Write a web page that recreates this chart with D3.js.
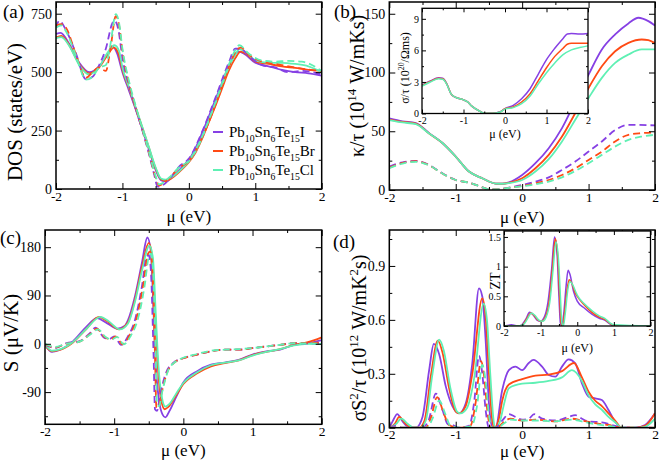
<!DOCTYPE html>
<html><head><meta charset="utf-8">
<script src="https://cdn.jsdelivr.net/npm/d3@7"></script>
<style>body{margin:0;background:#fff}svg{display:block}</style>
</head><body><svg id="c" width="661" height="460"></svg>
<script>
// ---------- DATA ----------
const seriesNames = ["Pb10Sn6Te15I","Pb10Sn6Te15Br","Pb10Sn6Te15Cl"];
const xTicks = [-2,-1,0,1,2];
const xMinor = [-1.5,-0.5,0.5,1.5];

// (a) DOS
const aSolidI=[[-2,663],[-1.93,668],[-1.8,620],[-1.65,540],[-1.5,500],[-1.35,525],[-1.22,580],[-1.15,610],[-1.08,580],[-1.0,500],[-0.9,420],[-0.8,340],[-0.7,255],[-0.6,168],[-0.5,82],[-0.42,38],[-0.35,33],[-0.25,50],[-0.1,95],[0,125],[0.1,175],[0.2,240],[0.3,310],[0.4,383],[0.5,455],[0.6,527],[0.68,570],[0.75,588],[0.85,575],[1.0,540],[1.2,525],[1.4,510],[1.6,500],[1.8,495],[2.0,485]];
const aSolidBr=[[-2,648],[-1.92,655],[-1.8,615],[-1.65,535],[-1.5,495],[-1.35,520],[-1.22,575],[-1.13,605],[-1.06,580],[-1.0,510],[-0.9,430],[-0.8,345],[-0.7,262],[-0.6,175],[-0.5,88],[-0.42,42],[-0.35,35],[-0.25,48],[-0.1,85],[0,115],[0.1,155],[0.2,215],[0.3,285],[0.4,355],[0.5,430],[0.6,505],[0.7,560],[0.78,588],[0.9,570],[1.0,545],[1.2,535],[1.4,525],[1.6,518],[1.8,510],[2.0,505]];
const aSolidCl=[[-2,645],[-1.92,650],[-1.8,612],[-1.65,530],[-1.5,490],[-1.35,522],[-1.22,585],[-1.12,615],[-1.05,590],[-1.0,520],[-0.9,435],[-0.8,350],[-0.7,265],[-0.6,178],[-0.5,92],[-0.42,45],[-0.35,40],[-0.25,52],[-0.1,88],[0,118],[0.1,160],[0.2,220],[0.3,295],[0.4,368],[0.5,445],[0.6,520],[0.7,575],[0.76,598],[0.9,575],[1.0,550],[1.2,540],[1.4,540],[1.6,535],[1.8,525],[2.0,500]];
const aDashI=[[-2,690],[-1.95,720],[-1.85,680],[-1.7,580],[-1.55,470],[-1.45,480],[-1.35,530],[-1.25,600],[-1.15,710],[-1.12,720],[-1.06,680],[-1.0,560],[-0.9,440],[-0.8,345],[-0.7,250],[-0.6,150],[-0.52,60],[-0.47,10],[-0.4,15],[-0.3,40],[-0.15,95],[0,130],[0.2,245],[0.4,390],[0.6,540],[0.7,600],[0.78,600],[0.9,570],[1.1,530],[1.3,520],[1.5,500],[1.7,505],[2.0,490]];
const aDashBr=[[-2,700],[-1.92,705],[-1.85,690],[-1.7,575],[-1.55,475],[-1.45,500],[-1.35,520],[-1.25,505],[-1.18,600],[-1.1,740],[-1.05,700],[-1.0,590],[-0.9,450],[-0.8,350],[-0.7,255],[-0.6,155],[-0.5,50],[-0.45,15],[-0.38,25],[-0.3,45],[-0.15,90],[0,120],[0.2,220],[0.4,360],[0.6,520],[0.7,585],[0.78,605],[0.9,575],[1.1,545],[1.3,535],[1.5,525],[1.7,515],[2.0,505]];
const aDashCl=[[-2,690],[-1.92,700],[-1.85,675],[-1.7,570],[-1.55,468],[-1.45,480],[-1.35,520],[-1.25,530],[-1.18,620],[-1.1,748],[-1.05,710],[-1.0,600],[-0.9,460],[-0.8,355],[-0.7,258],[-0.6,158],[-0.5,55],[-0.45,20],[-0.38,28],[-0.3,48],[-0.15,92],[0,122],[0.2,225],[0.4,370],[0.6,530],[0.7,595],[0.76,615],[0.9,580],[1.1,550],[1.3,545],[1.5,548],[1.7,545],[2.0,505]];
const aYTicks=[0,250,500,750], aYMinor=[125,375,625];

// (b) kappa/tau
const bSolidI=[[-2,61],[-1.8,58.5],[-1.6,57],[-1.4,48.4],[-1.2,40],[-1.0,28.5],[-0.8,15.7],[-0.6,10],[-0.4,5.5],[-0.3,5.3],[-0.2,6.5],[0,12.8],[0.2,22.8],[0.4,35.6],[0.6,52.7],[0.8,75.4],[1.0,98.2],[1.2,119.6],[1.4,132.4],[1.6,141.8],[1.75,146.6],[1.9,143.7],[2.0,140]];
const bSolidBr=[[-2,60],[-1.8,58],[-1.6,56.5],[-1.4,48],[-1.2,40],[-1.0,28.5],[-0.8,15.7],[-0.6,10],[-0.4,5.5],[-0.3,5.3],[-0.2,6],[0,10],[0.2,18.5],[0.4,29.9],[0.6,45.5],[0.8,65.5],[1.0,86.8],[1.2,105.3],[1.4,118.1],[1.6,125.2],[1.8,128.1],[1.9,127.5],[2.0,125]];
const bSolidCl=[[-2,59.5],[-1.8,57.5],[-1.6,56],[-1.4,48],[-1.2,40],[-1.0,28.5],[-0.8,15.7],[-0.6,10],[-0.4,5.5],[-0.3,5.3],[-0.2,5.8],[0,8.5],[0.2,15.7],[0.4,26.2],[0.6,41.3],[0.8,59.8],[1.0,78.3],[1.2,95.4],[1.4,108.2],[1.6,115.3],[1.8,119.6],[2.0,119.6]];
const bDashI=[[-2,19.9],[-1.8,23.6],[-1.6,24.8],[-1.4,21.3],[-1.2,14.2],[-1.0,8.5],[-0.8,6.3],[-0.6,2.3],[-0.5,0.6],[-0.4,0.6],[-0.2,2],[0,4.3],[0.2,7.1],[0.4,10.8],[0.6,17.1],[0.8,24.2],[1.0,32.7],[1.2,41.3],[1.4,51],[1.6,55.5],[2.0,55]];
const bDashBr=[[-2,19],[-1.8,23],[-1.6,24.5],[-1.4,21],[-1.2,14],[-1.0,8.5],[-0.8,6.3],[-0.6,2.3],[-0.5,0.6],[-0.4,0.6],[-0.2,1.8],[0,3.5],[0.2,5.7],[0.4,8.5],[0.6,12.8],[0.8,18.5],[1.0,25.6],[1.2,32.7],[1.4,41.3],[1.6,47],[1.8,48.4],[2.0,49]];
const bDashCl=[[-2,18.5],[-1.8,22.5],[-1.6,24],[-1.4,21],[-1.2,14],[-1.0,8.5],[-0.8,6.3],[-0.6,2.3],[-0.5,0.6],[-0.4,0.6],[-0.2,1.8],[0,3.2],[0.2,4.8],[0.4,7.1],[0.6,10.8],[0.8,16.2],[1.0,22.8],[1.2,29.9],[1.4,37],[1.6,42.7],[1.8,45.5],[2.0,47]];
const bYTicks=[0,50,100,150], bYMinor=[25,75,125];

// (b) inset sigma/tau
const sigI=[[-2,2.7],[-1.8,3.1],[-1.6,3.4],[-1.5,3.35],[-1.4,2.8],[-1.3,1.86],[-1.2,1.55],[-1.0,1.3],[-0.9,1.1],[-0.8,0.7],[-0.6,0.2],[-0.5,0.02],[-0.3,0.02],[-0.1,0.2],[0,0.47],[0.2,0.78],[0.4,1.4],[0.6,2.33],[0.8,3.73],[1.0,5.12],[1.2,6.2],[1.4,7.14],[1.5,7.55],[1.6,7.6],[1.8,7.55],[2.0,7.6]];
const sigBr=[[-2,2.65],[-1.8,3.05],[-1.6,3.35],[-1.5,3.3],[-1.4,2.78],[-1.3,1.86],[-1.2,1.55],[-1.0,1.3],[-0.9,1.1],[-0.8,0.7],[-0.6,0.2],[-0.5,0.02],[-0.3,0.02],[-0.1,0.18],[0,0.45],[0.2,0.62],[0.4,1.09],[0.6,1.86],[0.8,3.1],[1.0,4.35],[1.2,5.43],[1.4,6.2],[1.5,6.58],[1.6,6.68],[2.0,6.68]];
const sigCl=[[-2,2.6],[-1.8,3.0],[-1.6,3.3],[-1.5,3.25],[-1.4,2.75],[-1.3,1.86],[-1.2,1.55],[-1.0,1.3],[-0.9,1.1],[-0.8,0.7],[-0.6,0.2],[-0.5,0.02],[-0.3,0.02],[-0.1,0.17],[0,0.42],[0.2,0.56],[0.4,0.93],[0.6,1.65],[0.8,2.8],[1.0,3.88],[1.2,4.81],[1.4,5.59],[1.6,6.05],[1.8,6.27],[2.0,6.43]];
const sigYTicks=[0,3,6,9], sigYMinor=[1.5,4.5,7.5];

// (c) Seebeck
const cSolidI=[[-2,-2],[-1.9,-15],[-1.8,-12],[-1.6,4],[-1.4,32],[-1.25,48],[-1.1,38],[-0.95,28],[-0.85,33],[-0.8,44],[-0.7,88],[-0.6,150],[-0.52,198],[-0.47,172],[-0.43,57],[-0.4,-36],[-0.35,-107],[-0.3,-132],[-0.26,-137],[-0.2,-125],[-0.1,-98],[0,-72],[0.2,-51],[0.4,-39],[0.6,-35],[0.8,-30],[1.0,-20],[1.2,-14],[1.4,-11],[1.6,-2],[1.8,1],[2.0,7]];
const cSolidBr=[[-2,-3],[-1.9,-14],[-1.8,-12],[-1.6,2],[-1.4,28],[-1.22,50],[-1.1,42],[-0.93,27],[-0.8,40],[-0.7,82],[-0.6,142],[-0.5,188],[-0.45,160],[-0.41,60],[-0.37,-40],[-0.32,-105],[-0.27,-122],[-0.22,-118],[-0.1,-95],[0,-75],[0.2,-55],[0.4,-42],[0.6,-36],[0.8,-31],[1.0,-21],[1.2,-15],[1.4,-10],[1.6,-2],[1.8,3],[2.0,12]];
const cSolidCl=[[-2,-1],[-1.9,-13],[-1.8,-11],[-1.6,3],[-1.4,28],[-1.2,50],[-1.08,42],[-0.92,27],[-0.8,38],[-0.7,78],[-0.6,135],[-0.49,183],[-0.44,160],[-0.4,60],[-0.36,-40],[-0.31,-100],[-0.26,-117],[-0.2,-112],[-0.1,-92],[0,-73],[0.2,-53],[0.4,-40],[0.6,-35],[0.8,-31],[1.0,-22],[1.2,-15],[1.4,-10],[1.6,-3],[1.8,0],[2.0,0]];
const cDashI=[[-2,-2],[-1.85,-8],[-1.7,1],[-1.5,5],[-1.35,20],[-1.27,30],[-1.15,12],[-1.07,9],[-1.0,14],[-0.9,-2],[-0.8,14],[-0.7,44],[-0.6,106],[-0.53,162],[-0.5,165],[-0.47,137],[-0.43,-23],[-0.41,-122],[-0.38,-125],[-0.34,-98],[-0.25,-54],[-0.15,-36],[0,-27],[0.2,-20],[0.4,-14],[0.6,-11],[0.8,-11],[1.0,-8],[1.2,-5],[1.4,-2],[1.6,1],[2.0,1]];
const cDashBr=[[-2,-1],[-1.85,-7],[-1.7,0],[-1.5,4],[-1.35,18],[-1.25,28],[-1.15,14],[-1.05,8],[-0.98,14],[-0.88,-1],[-0.78,15],[-0.68,46],[-0.58,110],[-0.51,168],[-0.48,172],[-0.45,140],[-0.41,-20],[-0.39,-118],[-0.36,-120],[-0.32,-95],[-0.23,-52],[-0.13,-35],[0,-27],[0.2,-20],[0.4,-14],[0.6,-11],[0.8,-11],[1.0,-8],[1.2,-5],[1.4,-2],[1.6,1],[2.0,2]];
const cDashCl=[[-2,0],[-1.85,-6],[-1.7,0],[-1.5,4],[-1.35,17],[-1.23,27],[-1.13,13],[-1.03,8],[-0.96,13],[-0.86,-1],[-0.76,15],[-0.66,45],[-0.56,108],[-0.5,162],[-0.47,168],[-0.44,140],[-0.4,-18],[-0.38,-112],[-0.35,-116],[-0.31,-92],[-0.22,-50],[-0.12,-34],[0,-26],[0.2,-19],[0.4,-13],[0.6,-11],[0.8,-10],[1.0,-8],[1.2,-5],[1.4,-2],[1.6,1],[2.0,0]];
const cYTicks=[-90,0,90,180], cYMinor=[-135,-45,45,135];

// (d) power factor
const dSolidI=[[-2,0],[-1.95,0.035],[-1.88,0.076],[-1.8,0.035],[-1.7,0],[-1.6,0],[-1.5,0.06],[-1.4,0.32],[-1.33,0.466],[-1.25,0.41],[-1.15,0.23],[-1.05,0.12],[-0.95,0.08],[-0.85,0.135],[-0.75,0.36],[-0.65,0.775],[-0.6,0.73],[-0.55,0.49],[-0.5,0.135],[-0.45,0.005],[-0.4,0],[-0.3,0.21],[-0.2,0.32],[-0.1,0.34],[0,0.32],[0.1,0.36],[0.17,0.377],[0.3,0.34],[0.4,0.293],[0.5,0.284],[0.6,0.34],[0.7,0.38],[0.8,0.358],[0.9,0.247],[1.0,0.173],[1.1,0.163],[1.2,0.154],[1.3,0.098],[1.4,0.033],[1.5,0],[1.7,0],[1.85,0.015],[2.0,0.08]];
const dSolidBr=[[-2,0],[-1.92,0.02],[-1.85,0.06],[-1.75,0.02],[-1.65,0],[-1.55,0],[-1.47,0.04],[-1.37,0.3],[-1.27,0.485],[-1.2,0.42],[-1.1,0.22],[-1.0,0.09],[-0.95,0.08],[-0.85,0.12],[-0.75,0.3],[-0.6,0.72],[-0.55,0.62],[-0.5,0.3],[-0.45,0.04],[-0.42,0],[-0.35,0.05],[-0.3,0.15],[-0.2,0.24],[0,0.27],[0.2,0.29],[0.4,0.295],[0.6,0.315],[0.78,0.36],[0.9,0.28],[1.0,0.2],[1.1,0.15],[1.2,0.12],[1.3,0.08],[1.4,0.04],[1.5,0],[1.7,0],[1.85,0.01],[2.0,0.08]];
const dSolidCl=[[-2,0],[-1.9,0.02],[-1.82,0.05],[-1.72,0.02],[-1.62,0],[-1.53,0],[-1.45,0.04],[-1.35,0.3],[-1.25,0.49],[-1.18,0.43],[-1.08,0.22],[-0.98,0.09],[-0.93,0.08],[-0.83,0.11],[-0.72,0.28],[-0.58,0.69],[-0.53,0.6],[-0.48,0.3],[-0.43,0.04],[-0.4,0],[-0.33,0.04],[-0.28,0.12],[-0.2,0.22],[0,0.245],[0.2,0.25],[0.4,0.26],[0.6,0.28],[0.75,0.32],[0.9,0.26],[1.0,0.18],[1.1,0.13],[1.2,0.1],[1.3,0.06],[1.4,0.03],[1.5,0],[1.7,0],[1.85,0.005],[2.0,0.05]];
const dDashI=[[-2,0],[-1.9,0.01],[-1.8,0],[-1.5,0],[-1.4,0.05],[-1.3,0.19],[-1.2,0.1],[-1.12,0.02],[-1.05,0.015],[-0.95,0],[-0.8,0.01],[-0.72,0.15],[-0.65,0.4],[-0.6,0.3],[-0.55,0.1],[-0.5,0],[-0.4,0],[-0.3,0.04],[-0.2,0.075],[-0.1,0.06],[0,0.045],[0.1,0.05],[0.18,0.075],[0.3,0.05],[0.5,0.04],[0.7,0.06],[0.8,0.07],[0.9,0.05],[1.0,0.035],[1.2,0.03],[1.4,0.01],[1.5,0],[2.0,0]];
const dDashBr=[[-2,0],[-1.8,0],[-1.45,0],[-1.37,0.06],[-1.28,0.17],[-1.18,0.08],[-1.1,0.015],[-0.95,0],[-0.78,0.01],[-0.7,0.14],[-0.62,0.37],[-0.57,0.28],[-0.52,0.08],[-0.47,0],[-0.38,0],[-0.28,0.03],[-0.18,0.05],[0,0.04],[0.2,0.045],[0.5,0.035],[0.75,0.05],[0.9,0.04],[1.1,0.025],[1.3,0.015],[1.5,0],[2.0,0]];
const dDashCl=[[-2,0],[-1.8,0],[-1.43,0],[-1.35,0.05],[-1.25,0.15],[-1.15,0.07],[-1.08,0.01],[-0.95,0],[-0.76,0.01],[-0.68,0.12],[-0.6,0.35],[-0.55,0.26],[-0.5,0.07],[-0.45,0],[-0.37,0],[-0.27,0.025],[-0.17,0.045],[0,0.04],[0.2,0.04],[0.5,0.035],[0.75,0.045],[0.9,0.035],[1.1,0.02],[1.3,0.01],[1.5,0],[2.0,0]];
const dYTicks=[0,0.3,0.6,0.9], dYMinor=[0.15,0.45,0.75,1.05];

// (d) inset ZT
const ztI=[[-2,0],[-1.8,0.02],[-1.6,0],[-1.5,0.03],[-1.4,0.12],[-1.3,0.23],[-1.22,0.2],[-1.1,0.1],[-1.0,0.08],[-0.9,0.15],[-0.8,0.4],[-0.7,0.95],[-0.62,1.5],[-0.55,1.2],[-0.5,0.5],[-0.46,0.05],[-0.42,0],[-0.37,0.2],[-0.3,0.7],[-0.25,0.94],[-0.2,0.87],[-0.1,0.58],[0,0.42],[0.2,0.3],[0.4,0.2],[0.6,0.13],[0.75,0.1],[0.9,0.03],[1.0,0],[2.0,0]];
const ztBr=[[-2,0],[-1.6,0],[-1.48,0.03],[-1.38,0.12],[-1.27,0.22],[-1.18,0.18],[-1.07,0.1],[-0.97,0.08],[-0.87,0.15],[-0.77,0.4],[-0.68,0.95],[-0.6,1.47],[-0.53,1.15],[-0.48,0.5],[-0.44,0.05],[-0.4,0],[-0.35,0.2],[-0.28,0.6],[-0.22,0.78],[-0.15,0.72],[-0.05,0.55],[0,0.5],[0.2,0.35],[0.4,0.23],[0.6,0.15],[0.75,0.11],[0.9,0.04],[1.0,0.01],[2.0,0]];
const ztCl=[[-2,0],[-1.6,0],[-1.46,0.03],[-1.36,0.12],[-1.25,0.22],[-1.16,0.18],[-1.05,0.1],[-0.95,0.08],[-0.85,0.15],[-0.75,0.4],[-0.66,0.95],[-0.58,1.42],[-0.51,1.1],[-0.46,0.5],[-0.42,0.05],[-0.38,0],[-0.33,0.2],[-0.26,0.6],[-0.2,0.75],[-0.13,0.7],[-0.03,0.56],[0,0.52],[0.2,0.37],[0.4,0.26],[0.6,0.17],[0.75,0.13],[0.9,0.05],[1.0,0.02],[2.0,0]];
const ztYTicks=[0,0.5,1,1.5], ztYMinor=[0.25,0.75,1.25];

// ---------- DRAW ----------
const COL = {I:"#8640e4", Br:"#ff4a14", Cl:"#5ff0b4"};
const FONT = "'Liberation Serif','Times New Roman',serif";
const svg = d3.select("#c");
let clipN = 0;
const fmt = d => (d<0?"-":"") + Math.abs(d);

function rich(t, parts, fs){
  let shift = 0;
  parts.forEach(([s,k]) => {
    const target = k==="sub" ? 0.3*fs : k==="sup" ? -0.42*fs : 0;
    t.append("tspan").attr("dy", target-shift).attr("font-size", k ? fs*0.65 : fs).text(s);
    shift = target;
  });
}

function panel(o){
  const x = d3.scaleLinear().domain([-2,2]).range([o.L,o.R]);
  const y = d3.scaleLinear().domain(o.yd).range([o.B,o.T]);
  const g = svg.append("g");
  g.append("rect").attr("x",o.L).attr("y",o.T).attr("width",o.R-o.L).attr("height",o.B-o.T).attr("fill","#fff");
  const id = "clip"+(clipN++);
  svg.append("clipPath").attr("id",id).append("rect").attr("x",o.L).attr("y",o.T).attr("width",o.R-o.L).attr("height",o.B-o.T);
  const lg = g.append("g").attr("clip-path",`url(#${id})`);
  const line = d3.line().x(d=>x(d[0])).y(d=>y(d[1])).curve(d3.curveMonotoneX);
  o.series.forEach(s => {
    lg.append("path").datum(s.d).attr("d",line).attr("fill","none")
      .attr("stroke",s.c).attr("stroke-width",o.lw)
      .attr("stroke-dasharray", s.dash ? o.dash : null);
  });
  const mk = (gen, scale, vals, size, lab, tr, pad, fs) => {
    const a = gen(scale).tickValues(vals).tickSize(-size).tickPadding(pad).tickFormat(lab ? fmt : "");
    const gg = g.append("g").attr("transform",tr).call(a);
    gg.select(".domain").remove();
    gg.selectAll("line").attr("stroke","#000").attr("stroke-width",1);
    gg.selectAll("text").attr("font-family",FONT).attr("font-size",fs).attr("fill","#000");
  };
  const M=o.tl, m=o.tl/2;
  mk(d3.axisBottom, x, xTicks, M, true, `translate(0,${o.B})`, o.xpad, o.xfs || o.fs);
  mk(d3.axisBottom, x, xMinor, m, false, `translate(0,${o.B})`, 0, o.fs);
  mk(d3.axisTop, x, xTicks, M, false, `translate(0,${o.T})`, 0, o.fs);
  mk(d3.axisTop, x, xMinor, m, false, `translate(0,${o.T})`, 0, o.fs);
  mk(d3.axisLeft, y, o.yt, M, true, `translate(${o.L},0)`, o.ypad, o.fs);
  mk(d3.axisLeft, y, o.ym, m, false, `translate(${o.L},0)`, 0, o.fs);
  mk(d3.axisRight, y, o.yt, M, false, `translate(${o.R},0)`, 0, o.fs);
  mk(d3.axisRight, y, o.ym, m, false, `translate(${o.R},0)`, 0, o.fs);
  g.append("rect").attr("x",o.L).attr("y",o.T).attr("width",o.R-o.L).attr("height",o.B-o.T)
    .attr("fill","none").attr("stroke","#000").attr("stroke-width",o.fw);
  // x title
  g.append("text").attr("x",(o.L+o.R)/2).attr("y",o.xtY).attr("text-anchor","middle")
    .attr("font-family",FONT).attr("font-size",o.tfs).text("μ (eV)");
  // y title
  const yt = g.append("text").attr("transform",`translate(${o.ytX},${o.ytY}) rotate(-90)`)
    .attr("text-anchor","middle").attr("font-family",FONT).attr("font-size",o.yfs);
  rich(yt, o.ytitle, o.yfs);
  return {x,y,g};
}

const mainOpt = {lw:1.8, dash:"7,4", fs:14, xfs:13.5, tl:6, fw:1.5, xpad:2, ypad:4, tfs:17, yfs:20};
const insOpt = {lw:1.5, dash:null, fs:10, tl:4, fw:1.3, xpad:3, ypad:3, tfs:12, yfs:12};

function trio(I,Br,Cl,dash){ return [{d:I,c:COL.I,dash},{d:Br,c:COL.Br,dash},{d:Cl,c:COL.Cl,dash}]; }

// (a)
panel(Object.assign({}, mainOpt, {L:56,R:321.7,T:2,B:189,yd:[0,800],yt:aYTicks,ym:aYMinor,
  series:[...trio(aSolidI,aSolidBr,aSolidCl,false),...trio(aDashI,aDashBr,aDashCl,true)],
  xtY:222, ytX:22, ytY:112, yfs:21, ytitle:[["DOS (states/eV)",""]]}));
// (b)
panel(Object.assign({}, mainOpt, {L:389.3,R:655,T:2,B:190,yd:[0,160],yt:bYTicks,ym:bYMinor,
  series:[...trio(bSolidI,bSolidBr,bSolidCl,false),...trio(bDashI,bDashBr,bDashCl,true)],
  xtY:223, ytX:364, ytY:86, ytitle:[["κ/τ (10",""],["14","sup"],[" W/mKs)",""]]}));
// (b) inset
panel(Object.assign({}, insOpt, {L:422,R:588,T:8.3,B:113.5,yd:[0,10],yt:sigYTicks,ym:sigYMinor,
  series:trio(sigI,sigBr,sigCl,false),
  xtY:138, ytX:409, ytY:68, ytitle:[["σ/τ (10",""],["20","sup"],["/Ωms)",""]]}));
// (c)
panel(Object.assign({}, mainOpt, {L:45,R:321.7,T:230,B:424.3,yd:[-150,212],yt:cYTicks,ym:cYMinor,
  series:[...trio(cSolidI,cSolidBr,cSolidCl,false),...trio(cDashI,cDashBr,cDashCl,true)],
  xtY:456, ytX:18, ytY:333, yfs:21, ytitle:[["S (μV/K)",""]]}));
// (d)
panel(Object.assign({}, mainOpt, {L:389.3,R:655,T:230,B:427.7,yd:[0,1.1],yt:dYTicks,ym:dYMinor,
  series:[...trio(dSolidI,dSolidBr,dSolidCl,false),...trio(dDashI,dDashBr,dDashCl,true)],
  xtY:457, ytX:366, ytY:338, ytitle:[["σS",""],["2","sup"],["/τ (10",""],["12","sup"],[" W/mK",""],["2","sup"],["s)",""]]}));
// (d) inset
panel(Object.assign({}, insOpt, {L:504,R:650.5,T:231,B:326,yd:[0,1.6],yt:ztYTicks,ym:ztYMinor,
  series:trio(ztI,ztBr,ztCl,false),
  xtY:352, ytX:500, ytY:281, yfs:14, ytitle:[["ZT",""]]}));

// panel letters
[["(a)",3,18],["(b)",334,18],["(c)",0,244],["(d)",333,248]].forEach(([t,x,y])=>{
  svg.append("text").attr("x",x).attr("y",y).attr("font-family",FONT).attr("font-size",19).text(t);
});

// legend in (a)
const legParts = [
  [["Pb",""],["10","sub"],["Sn",""],["6","sub"],["Te",""],["15","sub"],["I",""]],
  [["Pb",""],["10","sub"],["Sn",""],["6","sub"],["Te",""],["15","sub"],["Br",""]],
  [["Pb",""],["10","sub"],["Sn",""],["6","sub"],["Te",""],["15","sub"],["Cl",""]]
];
const legCols=[COL.I,COL.Br,COL.Cl];
const legY = d3.scalePoint().domain(seriesNames).range([132,170]);
seriesNames.forEach((n,i)=>{
  const yy = legY(n);
  svg.append("line").attr("x1",213).attr("x2",223).attr("y1",yy).attr("y2",yy).attr("stroke",legCols[i]).attr("stroke-width",2);
  const t = svg.append("text").attr("x",229).attr("y",yy+5).attr("font-family",FONT).attr("font-size",15);
  rich(t, legParts[i], 15);
});
</script></body></html>
